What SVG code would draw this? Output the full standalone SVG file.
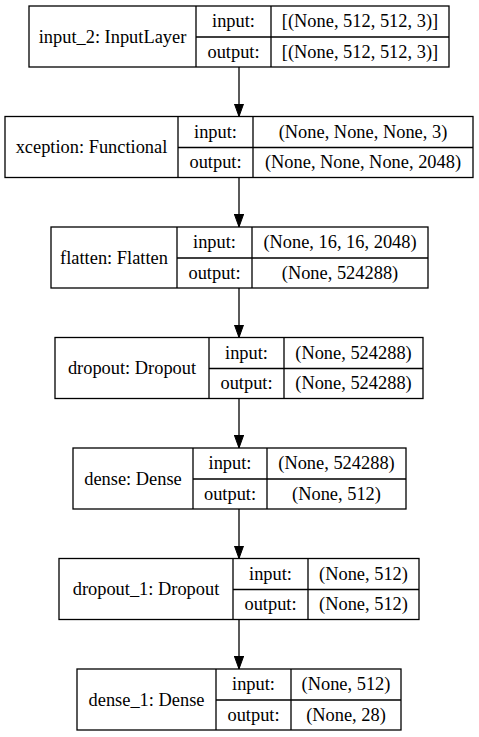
<svg xmlns="http://www.w3.org/2000/svg" width="479" height="737" viewBox="0 0 479 737">
<style>
.box{fill:#fff;stroke:#000;stroke-width:1.3}
.ln{stroke:#000;stroke-width:1.3;fill:none}
text{font-family:"Liberation Serif","Times New Roman",serif;font-size:18.4px;fill:#000;text-anchor:middle}
</style>
<defs>
<marker id="ah" markerUnits="userSpaceOnUse" markerWidth="14" markerHeight="10" refX="13" refY="4.7" orient="auto">
<path d="M0,0 L13,4.7 L0,9.4 Z" fill="#000" stroke="#000" stroke-width="1"/>
</marker>
</defs>
<rect width="479" height="737" fill="#fff"/>
<g id="connectors">
<path class="ln" d="M239,67 V116.5" marker-end="url(#ah)"/>
<path class="ln" d="M239,177.5 V227" marker-end="url(#ah)"/>
<path class="ln" d="M239,288 V337.5" marker-end="url(#ah)"/>
<path class="ln" d="M239,398.5 V448" marker-end="url(#ah)"/>
<path class="ln" d="M239,509 V558.5" marker-end="url(#ah)"/>
<path class="ln" d="M239,619.5 V669" marker-end="url(#ah)"/>
</g>
<g id="input_2">
<rect class="box" x="29" y="6" width="420" height="61"/>
<path class="ln" d="M196,6 V67 M271,6 V67 M196,37 H449"/>
<text x="112.5" y="42.5">input_2: InputLayer</text>
<text x="233.5" y="27.3">input:</text>
<text x="233.5" y="57.7">output:</text>
<text x="360" y="27.3">[(None, 512, 512, 3)]</text>
<text x="360" y="57.7">[(None, 512, 512, 3)]</text>
</g>
<g id="xception">
<rect class="box" x="5" y="116.5" width="468" height="61"/>
<path class="ln" d="M178,116.5 V177.5 M253,116.5 V177.5 M178,147.5 H473"/>
<text x="91.5" y="153">xception: Functional</text>
<text x="215.5" y="137.8">input:</text>
<text x="215.5" y="168.2">output:</text>
<text x="363" y="137.8">(None, None, None, 3)</text>
<text x="363" y="168.2">(None, None, None, 2048)</text>
</g>
<g id="flatten">
<rect class="box" x="51" y="227" width="377" height="61"/>
<path class="ln" d="M177,227 V288 M252,227 V288 M177,258 H428"/>
<text x="114" y="263.5">flatten: Flatten</text>
<text x="214.5" y="248.3">input:</text>
<text x="214.5" y="278.7">output:</text>
<text x="340" y="248.3">(None, 16, 16, 2048)</text>
<text x="340" y="278.7">(None, 524288)</text>
</g>
<g id="dropout">
<rect class="box" x="55" y="337.5" width="368" height="61"/>
<path class="ln" d="M209,337.5 V398.5 M284,337.5 V398.5 M209,368.5 H423"/>
<text x="132" y="374">dropout: Dropout</text>
<text x="246.5" y="358.8">input:</text>
<text x="246.5" y="389.2">output:</text>
<text x="353.5" y="358.8">(None, 524288)</text>
<text x="353.5" y="389.2">(None, 524288)</text>
</g>
<g id="dense">
<rect class="box" x="73" y="448" width="333" height="61"/>
<path class="ln" d="M193,448 V509 M267,448 V509 M193,479 H406"/>
<text x="133" y="484.5">dense: Dense</text>
<text x="230" y="469.3">input:</text>
<text x="230" y="499.7">output:</text>
<text x="336.5" y="469.3">(None, 524288)</text>
<text x="336.5" y="499.7">(None, 512)</text>
</g>
<g id="dropout_1">
<rect class="box" x="59" y="558.5" width="360" height="61"/>
<path class="ln" d="M233,558.5 V619.5 M308,558.5 V619.5 M233,589.5 H419"/>
<text x="146" y="595">dropout_1: Dropout</text>
<text x="270.5" y="579.8">input:</text>
<text x="270.5" y="610.2">output:</text>
<text x="363.5" y="579.8">(None, 512)</text>
<text x="363.5" y="610.2">(None, 512)</text>
</g>
<g id="dense_1">
<rect class="box" x="77" y="669" width="324" height="61"/>
<path class="ln" d="M216,669 V730 M291,669 V730 M216,700 H401"/>
<text x="146.5" y="705.5">dense_1: Dense</text>
<text x="253.5" y="690.3">input:</text>
<text x="253.5" y="720.7">output:</text>
<text x="346" y="690.3">(None, 512)</text>
<text x="346" y="720.7">(None, 28)</text>
</g>
</svg>
